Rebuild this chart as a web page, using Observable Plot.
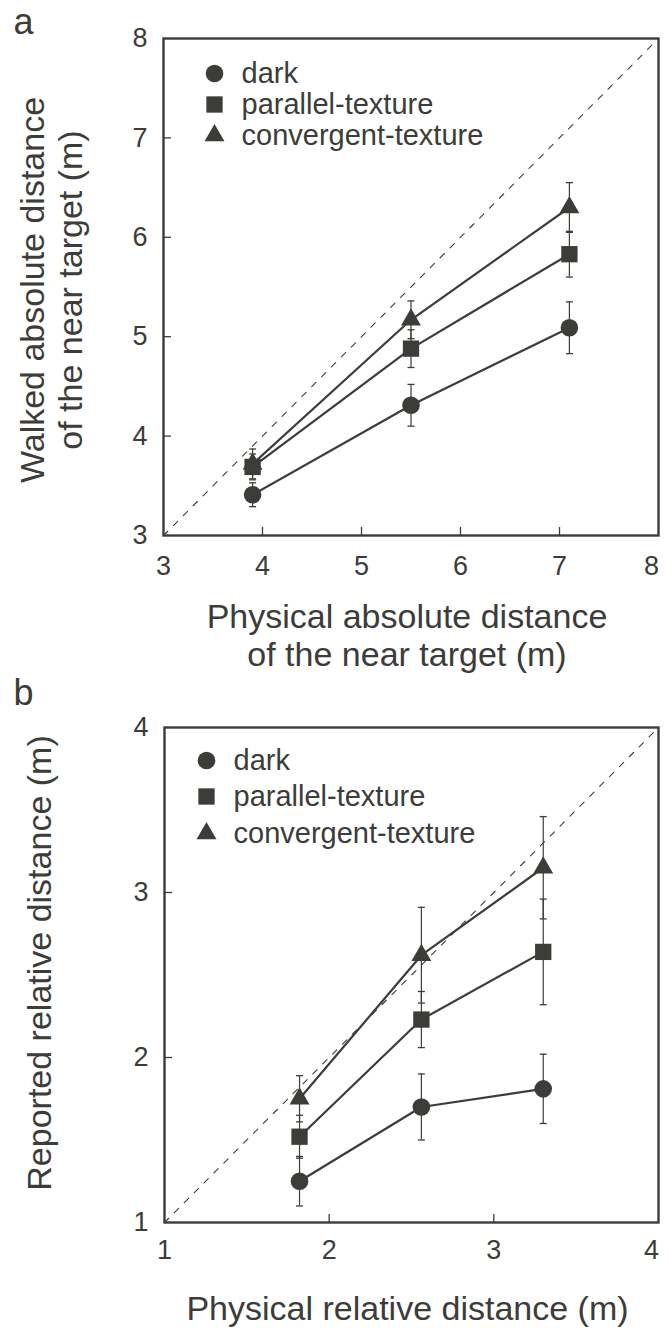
<!DOCTYPE html>
<html>
<head>
<meta charset="utf-8">
<script src="https://cdn.jsdelivr.net/npm/d3@7"></script>
<script src="https://cdn.jsdelivr.net/npm/@observablehq/plot@0.6"></script>
<style>
  body { margin: 0; background: #fff; }
  #chart { width: 670px; }
  #chart svg { display: block; }
</style>
</head>
<body>
<div id="chart"></div>
<script>
// Conditions and their marker shapes
const series = ["dark", "parallel-texture", "convergent-texture"];
const symbols = ["circle", "square", "triangle"];

// Panel a: walked vs physical absolute distance of the near target (m)
const physicalAbs = [3.9, 5.5, 7.1];
const walkedDark = [3.41, 4.31, 5.09];
const walkedDarkErr = [0.12, 0.21, 0.26];
const walkedParallel = [3.69, 4.88, 5.83];
const walkedParallelErr = [0.13, 0.19, 0.23];
const walkedConvergent = [3.72, 5.17, 6.30];
const walkedConvergentErr = [0.15, 0.19, 0.25];
const ticksA = [3, 4, 5, 6, 7, 8];

// Panel b: reported vs physical relative distance (m)
const physicalRel = [1.82, 2.56, 3.30];
const reportedDark = [1.25, 1.70, 1.81];
const reportedDarkErr = [0.15, 0.20, 0.21];
const reportedParallel = [1.52, 2.23, 2.64];
const reportedParallelErr = [0.13, 0.17, 0.32];
const reportedConvergent = [1.75, 2.62, 3.15];
const reportedConvergentErr = [0.14, 0.29, 0.31];
const ticksB = [1, 2, 3, 4];

const INK = "#3c3c39";
const FONT = "Arial, 'Liberation Sans', Helvetica, sans-serif";
const markerR = {circle: 8.8, square: 9.2, triangle: 7.4};
const fmt = d3.format("d");

// horizontal whisker cap drawn as a dot symbol (half-width = r)
const capSymbol = {
  draw(ctx, size) {
    const w = Math.sqrt(size / Math.PI);
    ctx.moveTo(-w, 0);
    ctx.lineTo(w, 0);
  }
};

function rowsFor(xs, groups) {
  return groups.flatMap(([name, ys, errs]) =>
    xs.map((x, i) => ({series: name, x, y: ys[i], err: errs[i]})));
}

const rowsA = rowsFor(physicalAbs, [
  [series[0], walkedDark, walkedDarkErr],
  [series[1], walkedParallel, walkedParallelErr],
  [series[2], walkedConvergent, walkedConvergentErr]
]);
const rowsB = rowsFor(physicalRel, [
  [series[0], reportedDark, reportedDarkErr],
  [series[1], reportedParallel, reportedParallelErr],
  [series[2], reportedConvergent, reportedConvergentErr]
]);

function panel(cfg) {
  const width = 670, ml = cfg.marginLeft, mr = 12;
  const innerW = width - ml - mr;
  const innerH = cfg.height - cfg.marginTop - cfg.marginBottom;
  const domain = [cfg.ticks[0], cfg.ticks[cfg.ticks.length - 1]];
  const innerTicks = cfg.ticks.slice(1, -1);
  const marks = [];

  // identity reference line
  marks.push(Plot.line(domain.map(v => [v, v]), {
    stroke: INK, strokeWidth: 1.1, strokeDasharray: "6,8"
  }));

  // error bars
  series.forEach(name => {
    const data = cfg.rows.filter(d => d.series === name);
    marks.push(Plot.ruleX(data, {x: "x", y1: d => d.y - d.err, y2: d => d.y + d.err, stroke: INK, strokeWidth: 1.2}));
    marks.push(Plot.dot(data, {x: "x", y: d => d.y + d.err, symbol: capSymbol, r: 3.5, fill: "none", stroke: INK, strokeWidth: 1.3}));
    marks.push(Plot.dot(data, {x: "x", y: d => d.y - d.err, symbol: capSymbol, r: 3.5, fill: "none", stroke: INK, strokeWidth: 1.3}));
  });

  // connecting lines
  series.forEach(name => {
    marks.push(Plot.line(cfg.rows.filter(d => d.series === name), {x: "x", y: "y", stroke: INK, strokeWidth: 2.2}));
  });

  // markers
  series.forEach((name, k) => {
    marks.push(Plot.dot(cfg.rows.filter(d => d.series === name), {
      x: "x", y: "y", symbol: symbols[k], r: markerR[symbols[k]], fill: INK, stroke: "none"
    }));
  });

  // frame and inward ticks
  marks.push(Plot.frame({stroke: INK, strokeWidth: 2.4}));
  marks.push(Plot.ruleX(innerTicks, {x: d => d, insetTop: innerH - 8, stroke: INK, strokeWidth: 1.3}));
  marks.push(Plot.ruleY(innerTicks, {y: d => d, insetRight: innerW - 8, stroke: INK, strokeWidth: 1.3}));

  // tick labels (the last x label is nudged inside the page edge)
  const axisStyle = {tickSize: 0, fontSize: 27, color: INK, fill: INK, label: null, tickFormat: fmt};
  marks.push(Plot.axisX(cfg.ticks.slice(0, -1), {...axisStyle, tickPadding: cfg.xTickPad}));
  marks.push(Plot.axisX(cfg.ticks.slice(-1), {...axisStyle, tickPadding: cfg.xTickPad, dx: -7}));
  marks.push(Plot.axisY(cfg.ticks, {...axisStyle, tickPadding: 16}));

  // legend
  series.forEach((name, k) => {
    marks.push(Plot.dot([name], {
      frameAnchor: "top-left", dx: cfg.legend.mx, dy: cfg.legend.rows[k],
      symbol: symbols[k], r: markerR[symbols[k]], fill: INK, stroke: "none"
    }));
    marks.push(Plot.text([name], {
      frameAnchor: "top-left", dx: cfg.legend.tx, dy: cfg.legend.rows[k],
      text: d => d, textAnchor: "start", lineAnchor: "middle", fontSize: 29, fill: INK
    }));
  });

  // axis titles
  marks.push(Plot.text([cfg.xTitle], {
    frameAnchor: "bottom", dx: -4, dy: cfg.xTitleDy, text: d => d,
    textAnchor: "middle", lineAnchor: "top", lineHeight: 1.13, fontSize: 34, fill: INK
  }));
  marks.push(Plot.text([cfg.yTitle], {
    frameAnchor: "left", dx: cfg.yTitleDx, dy: cfg.yTitleDy, rotate: -90, text: d => d,
    textAnchor: "middle", lineAnchor: "middle", lineHeight: 1.13, fontSize: 34, fill: INK
  }));

  // panel letter
  marks.push(Plot.text([cfg.letter], {
    frameAnchor: "top-left", dx: 13 - ml, dy: cfg.letterDy, text: d => d,
    textAnchor: "start", lineAnchor: "top", fontSize: 36, fill: INK
  }));

  return Plot.plot({
    width, height: cfg.height,
    marginLeft: ml, marginRight: mr, marginTop: cfg.marginTop, marginBottom: cfg.marginBottom,
    style: {fontFamily: FONT, color: INK, background: "#fff", overflow: "visible"},
    x: {domain, axis: null},
    y: {domain, axis: null},
    marks
  });
}

const chart = document.getElementById("chart");
chart.append(panel({
  letter: "a", rows: rowsA, ticks: ticksA,
  height: 680, marginLeft: 163, marginTop: 38, marginBottom: 145,
  xTickPad: 20, xTitleDy: 65, yTitleDx: -113, yTitleDy: 3, letterDy: -30,
  xTitle: "Physical absolute distance\nof the near target (m)",
  yTitle: "Walked absolute distance\nof the near target (m)",
  legend: {mx: 51, tx: 78, rows: [35, 66, 97]}
}));
chart.append(panel({
  letter: "b", rows: rowsB, ticks: ticksB,
  height: 657, marginLeft: 164, marginTop: 47, marginBottom: 115,
  xTickPad: 17, xTitleDy: 70, yTitleDx: -126, yTitleDy: -12, letterDy: -48,
  xTitle: "Physical relative distance (m)",
  yTitle: "Reported relative distance (m)",
  legend: {mx: 42, tx: 69, rows: [33, 69, 106]}
}));
</script>
</body>
</html>
